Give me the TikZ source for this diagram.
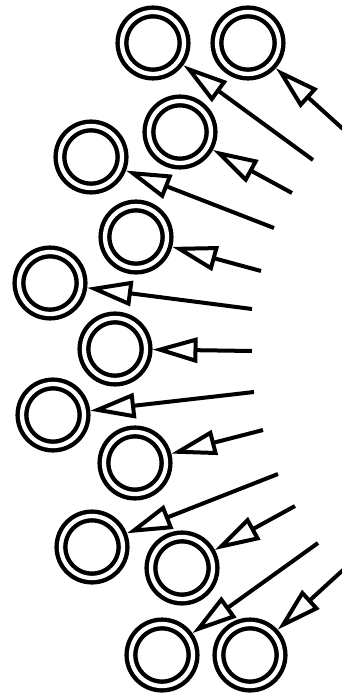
\documentclass[tikz,border=0pt]{standalone}
\usetikzlibrary{arrows.meta}

\begin{document}
\begin{tikzpicture}[x=1pt, y=-1pt,
    cell/.style={circle, draw, line width=4.4pt, double, double distance=4.3pt,
      minimum size=62pt, inner sep=0pt, outer sep=6.5pt},
    feed/.style={line width=4pt, -{Triangle[open, length=45pt, width=25pt]}}]
    \useasboundingbox (0,0) rectangle (341,698);
    \foreach \i/\cx/\cy/\ex/\ey in {1/153/43/313/160, 2/248/43/343/129,
      3/180/132/292/193, 4/91/157/274/228, 5/136/237/261/271,
      6/50/283/252/309, 7/115/349/252/351, 8/53/415/254/392,
      9/135/463/263/430, 10/92/547/278/474, 11/182/568/295/506,
      12/162/655/318/543, 13/250/655/343/570}
    {
      \node[cell] (c\i) at (\cx,\cy) {};
      \coordinate (e\i) at (\ex,\ey);
      \draw[feed] (e\i) -- (c\i);
    }
  \end{tikzpicture}
\end{document}
